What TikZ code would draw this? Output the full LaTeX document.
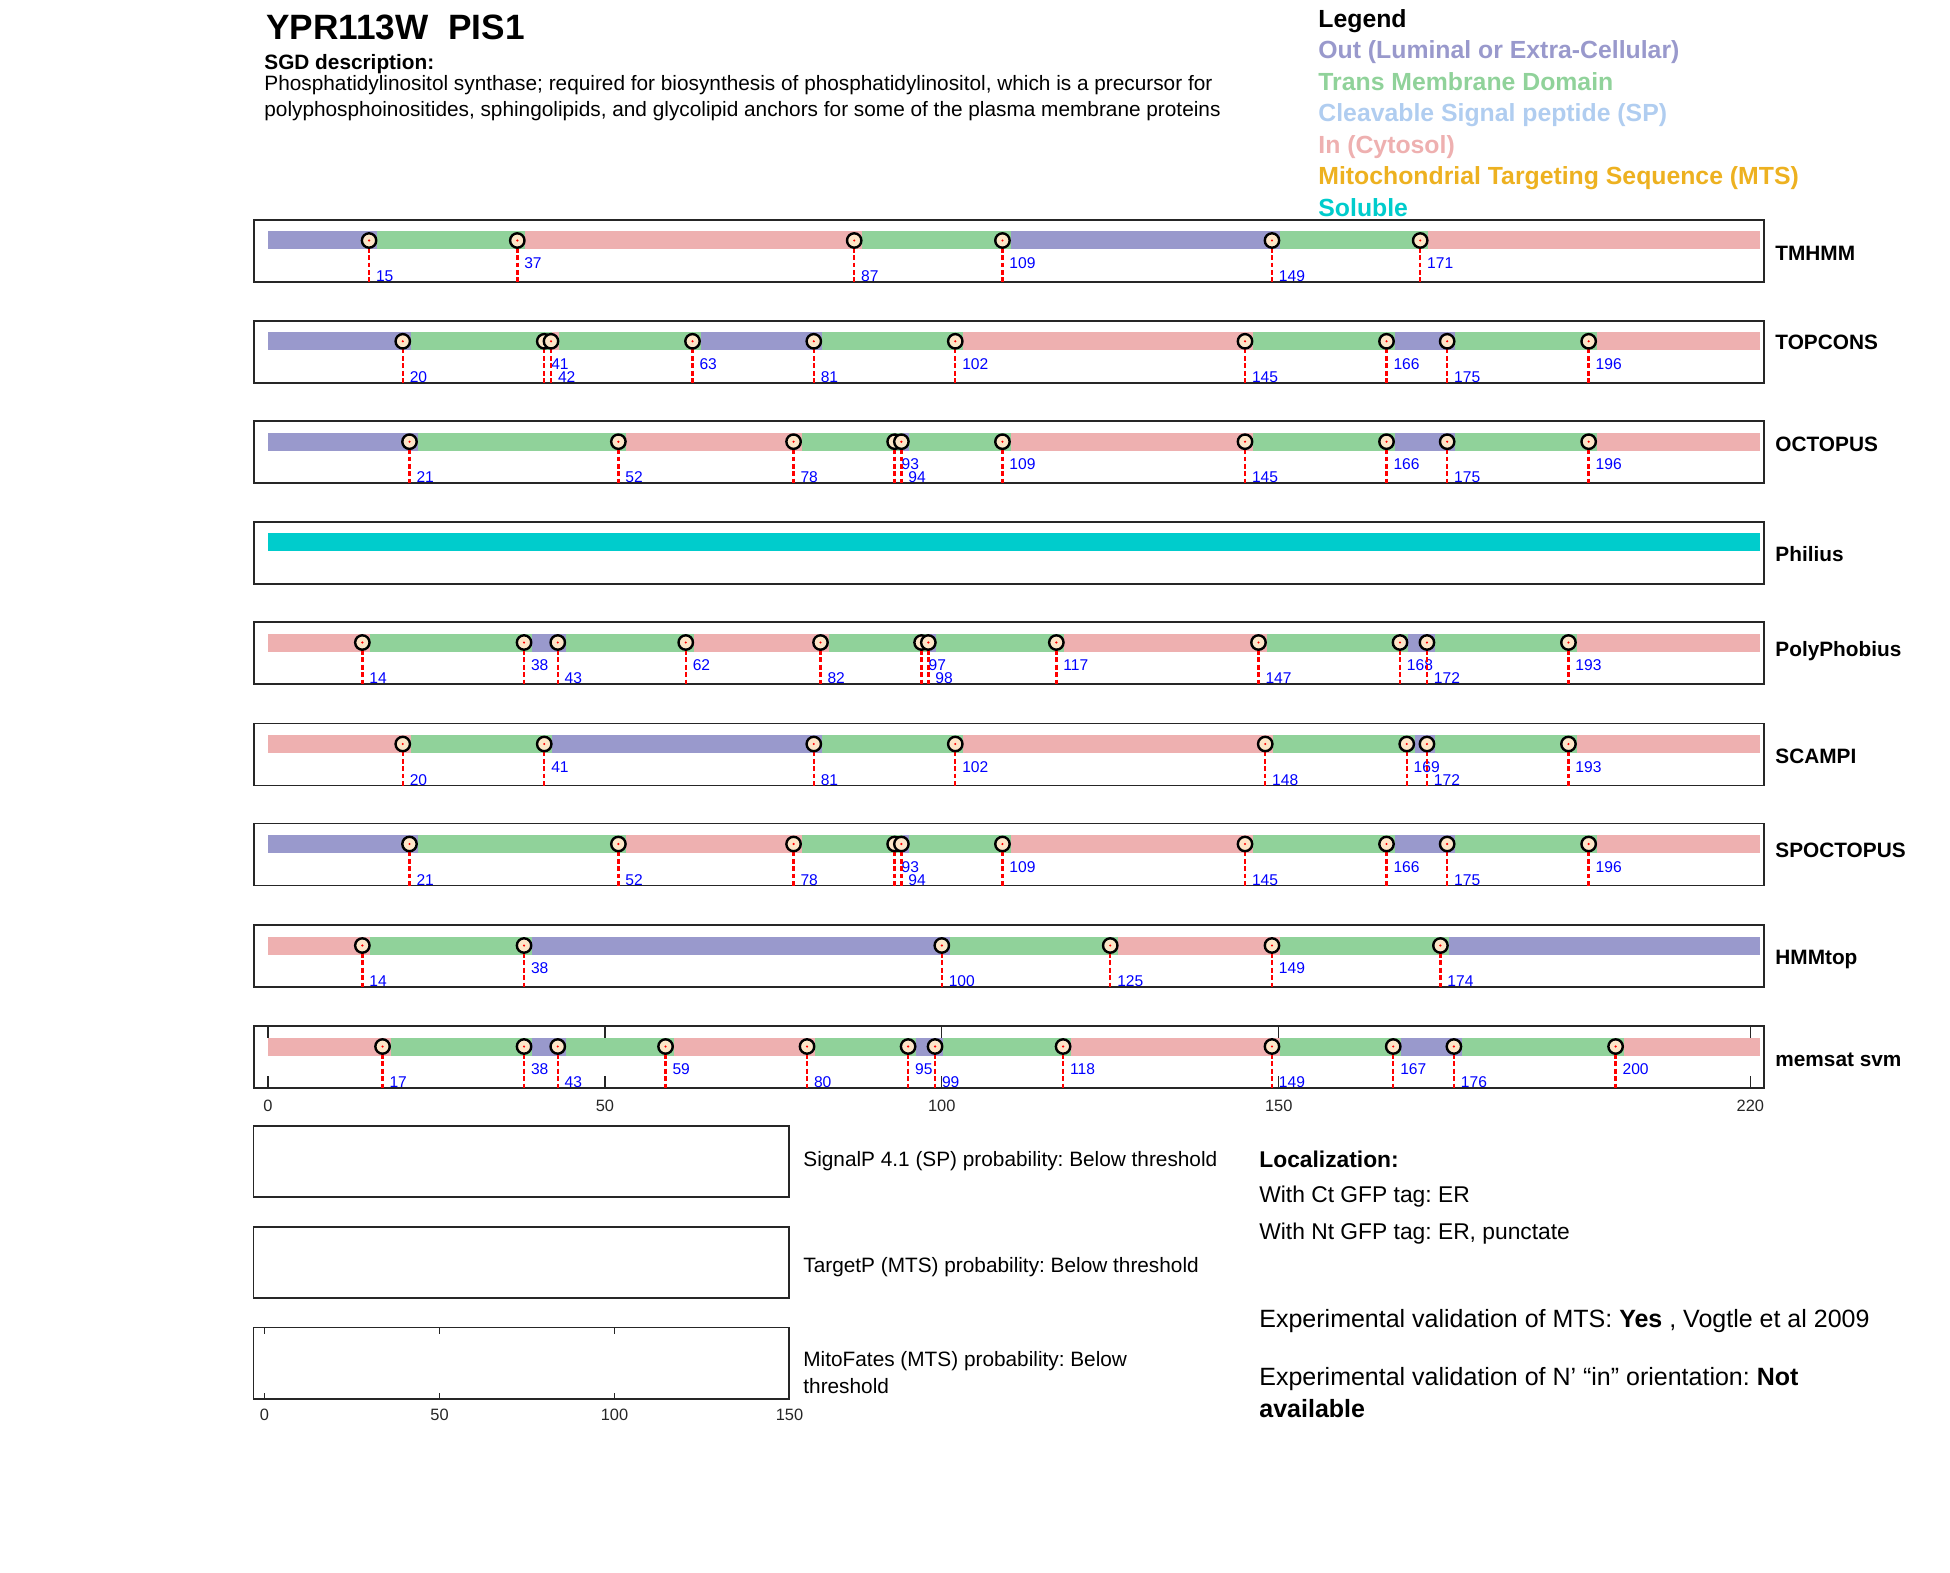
\documentclass[tikz,border=0pt]{standalone}
\usepackage{fontspec}
\setmainfont{Liberation Sans}
\usepackage{xcolor}
\usepackage{tikz}
\usetikzlibrary{positioning,calc}
\frenchspacing
\definecolor{outcol}{RGB}{153,153,204}
\definecolor{tmcol}{RGB}{144,210,154}
\definecolor{spcol}{RGB}{176,205,240}
\definecolor{incol}{RGB}{238,176,176}
\definecolor{mtscol}{RGB}{237,177,32}
\definecolor{solcol}{RGB}{0,204,204}
\definecolor{framecol}{RGB}{38,38,38}
\definecolor{knotfill}{RGB}{253,230,200}
\tikzstyle{panel}=[draw=framecol, line width=0.8pt]
\tikzstyle{tick}=[framecol, line width=0.6pt]
\tikzstyle{cut}=[red, line width=1.2pt, dash pattern=on 2.4pt off 1.3pt]
\tikzstyle{knot}=[draw=black, fill=knotfill, line width=1.2pt]
\tikzstyle{num}=[text=blue, inner sep=0pt, anchor=base west, font=\fontsize{7.8}{9}\selectfont]
\tikzstyle{axlab}=[text=framecol, inner sep=0pt, anchor=base, font=\fontsize{8.2}{9}\selectfont]
\tikzstyle{tool}=[inner sep=0pt, anchor=base west, font=\fontsize{10.4}{12}\selectfont\bfseries]
\tikzstyle{legtext}=[inner sep=0pt, anchor=base west, font=\fontsize{12.4}{14}\selectfont\bfseries]
\tikzstyle{desc}=[inner sep=0pt, anchor=base west, font=\fontsize{10.4}{12}\selectfont]
\tikzstyle{probtext}=[inner sep=0pt, anchor=base west, font=\fontsize{10.4}{12}\selectfont]
\tikzstyle{loctext}=[inner sep=0pt, anchor=base west, font=\fontsize{11.4}{13}\selectfont]
\tikzstyle{valtext}=[inner sep=0pt, anchor=base west, font=\fontsize{12.5}{14}\selectfont]
% label baselines below the panel top (upper / lower)
\def\nhi{48.6}
\def\nlo{61.6}
% #1 panel top, #2 segments a/b/colour, #3 cuts position/level, #4 row name
\newcommand{\predrow}[4]{%
	\begin{scope}[shift={(268,#1)}, x=3.369pt]
		\draw[panel] (-2.08,0) rectangle (222.03,62);
		\foreach \a/\b/\c in {#2}
			\fill[\c] ({\a+1.2},11.5) rectangle ({\b+1.2},29.5);
		\foreach \p/\h in {#3}{
			\draw[cut] (\p,20.5) -- (\p,62);
			\draw[knot] (\p,20.5) circle[radius=3.6pt];
			\fill[red] (\p,20.5) circle[radius=0.6pt];
			\node[num, xshift=3.3pt] (#4-\p) at (\p,\h) {\p};
		}
	\end{scope}}

\begin{document}
\begin{tikzpicture}[x=0.5pt, y=-0.5pt]
	\useasboundingbox (0,0) rectangle (1950,1573);

	% header
	\node[inner sep=0pt, anchor=base west, font=\fontsize{17.6}{20}\selectfont\bfseries] (gene) at (266,39.3) {YPR113W~~PIS1};
	\node[desc, font=\fontsize{10.4}{12}\selectfont\bfseries] (sgd) at (264,70) {SGD description:};
	\node[desc] (desc1) at (264,91) {Phosphatidylinositol synthase; required for biosynthesis of phosphatidylinositol, which is a precursor for};
	\node[desc] (desc2) at (264,116.7) {polyphosphoinositides, sphingolipids, and glycolipid anchors for some of the plasma membrane proteins};

	% legend
	\node[legtext] (leg) at (1318,27.3) {Legend};
	\node[legtext, text=outcol] (leg-out) at (1318,58.8) {Out (Luminal or Extra-Cellular)};
	\node[legtext, text=tmcol] (leg-tm) at (1318,90.3) {Trans Membrane Domain};
	\node[legtext, text=spcol] (leg-sp) at (1318,121.8) {Cleavable Signal peptide (SP)};
	\node[legtext, text=incol] (leg-in) at (1318,153.3) {In (Cytosol)};
	\node[legtext, text=mtscol] (leg-mts) at (1318,184.8) {Mitochondrial Targeting Sequence (MTS)};
	\node[legtext, text=solcol] (leg-sol) at (1318,216.3) {Soluble};

	% prediction rows
	\predrow{220}{-1.2/15/outcol, 15/37/tmcol, 37/87/incol, 87/109/tmcol, 109/149/outcol, 149/171/tmcol, 171/220.2/incol}
		{15/\nlo, 37/\nhi, 87/\nlo, 109/\nhi, 149/\nlo, 171/\nhi}{tmhmm}
	\predrow{320.8}{-1.2/20/outcol, 20/41/tmcol, 41/42/incol, 42/63/tmcol, 63/81/outcol, 81/102/tmcol, 102/145/incol, 145/166/tmcol, 166/175/outcol, 175/196/tmcol, 196/220.2/incol}
		{20/\nlo, 41/\nhi, 42/\nlo, 63/\nhi, 81/\nlo, 102/\nhi, 145/\nlo, 166/\nhi, 175/\nlo, 196/\nhi}{topcons}
	\predrow{421.2}{-1.2/21/outcol, 21/52/tmcol, 52/78/incol, 78/93/tmcol, 93/94/outcol, 94/109/tmcol, 109/145/incol, 145/166/tmcol, 166/175/outcol, 175/196/tmcol, 196/220.2/incol}
		{21/\nlo, 52/\nlo, 78/\nlo, 93/\nhi, 94/\nlo, 109/\nhi, 145/\nlo, 166/\nhi, 175/\nlo, 196/\nhi}{octopus}
	\begin{scope}[shift={(268,521.8)}, x=3.369pt]
		\draw[panel] (-2.08,0) rectangle (222.03,62);
		\fill[solcol] (0,11.5) rectangle (221.4,29.5);
	\end{scope}
	\predrow{622}{-1.2/14/incol, 14/38/tmcol, 38/43/outcol, 43/62/tmcol, 62/82/incol, 82/97/tmcol, 97/98/outcol, 98/117/tmcol, 117/147/incol, 147/168/tmcol, 168/172/outcol, 172/193/tmcol, 193/220.2/incol}
		{14/\nlo, 38/\nhi, 43/\nlo, 62/\nhi, 82/\nlo, 97/\nhi, 98/\nlo, 117/\nhi, 147/\nlo, 168/\nhi, 172/\nlo, 193/\nhi}{polyphobius}
	\predrow{723.5}{-1.2/20/incol, 20/41/tmcol, 41/81/outcol, 81/102/tmcol, 102/148/incol, 148/169/tmcol, 169/172/outcol, 172/193/tmcol, 193/220.2/incol}
		{20/\nlo, 41/\nhi, 81/\nlo, 102/\nhi, 148/\nlo, 169/\nhi, 172/\nlo, 193/\nhi}{scampi}
	\predrow{823.5}{-1.2/21/outcol, 21/52/tmcol, 52/78/incol, 78/93/tmcol, 93/94/outcol, 94/109/tmcol, 109/145/incol, 145/166/tmcol, 166/175/outcol, 175/196/tmcol, 196/220.2/incol}
		{21/\nlo, 52/\nlo, 78/\nlo, 93/\nhi, 94/\nlo, 109/\nhi, 145/\nlo, 166/\nhi, 175/\nlo, 196/\nhi}{spoctopus}
	\predrow{925}{-1.2/14/incol, 14/38/tmcol, 38/100/outcol, 100/125/tmcol, 125/149/incol, 149/174/tmcol, 174/220.2/outcol}
		{14/\nlo, 38/\nhi, 100/\nlo, 125/\nlo, 149/\nhi, 174/\nlo}{hmmtop}
	\predrow{1026}{-1.2/17/incol, 17/38/tmcol, 38/43/outcol, 43/59/tmcol, 59/80/incol, 80/95/tmcol, 95/99/outcol, 99/118/tmcol, 118/149/incol, 149/167/tmcol, 167/176/outcol, 176/200/tmcol, 200/220.2/incol}
		{17/\nlo, 38/\nhi, 43/\nlo, 59/\nhi, 80/\nlo, 95/\nhi, 99/\nlo, 118/\nhi, 149/\nlo, 167/\nhi, 176/\nlo, 200/\nhi}{memsat}

	% residue axis
	\begin{scope}[shift={(268,1026)}, x=3.369pt]
		\foreach \t in {0,50,100,150,220}{
			\draw[tick] (\t,0) -- (\t,12);
			\draw[tick] (\t,62) -- (\t,50);
			\node[axlab] (res-\t) at (\t,85.9) {\t};
		}
	\end{scope}

	% tool names
	\node[tool] (name-tmhmm) at (1775,260.7) {TMHMM};
	\node[tool] (name-topcons) at (1775,349.2) {TOPCONS};
	\node[tool] (name-octopus) at (1775,451.2) {OCTOPUS};
	\node[tool] (name-philius) at (1775,561.8) {Philius};
	\node[tool] (name-polyphobius) at (1775,656) {PolyPhobius};
	\node[tool] (name-scampi) at (1775,763.2) {SCAMPI};
	\node[tool] (name-spoctopus) at (1775,857.8) {SPOCTOPUS};
	\node[tool] (name-hmmtop) at (1775,964.8) {HMMtop};
	\node[tool] (name-memsat) at (1775,1066) {memsat svm};

	% probability panels
	\draw[panel] (253.5,1126) rectangle (789,1197);
	\draw[panel] (253.5,1227) rectangle (789,1298);
	\draw[panel] (253.5,1327.5) rectangle (789,1399);
	\begin{scope}[shift={(264.5,1327.5)}, x=1.75pt]
		\foreach \t in {0,50,100,150}{
			\draw[tick] (\t,0) -- (\t,6);
			\draw[tick] (\t,71.5) -- (\t,65.5);
			\node[axlab] (prob-\t) at (\t,93.3) {\t};
		}
	\end{scope}
	\node[probtext] (signalp) at (803,1166.7) {SignalP 4.1 (SP) probability: Below threshold};
	\node[probtext] (targetp) at (803,1272.4) {TargetP (MTS) probability: Below threshold};
	\node[probtext] (mitofates) at (803,1366.7) {MitoFates (MTS) probability: Below};
	\node[probtext] (mitofates2) at (803,1393.1) {threshold};

	% localization
	\node[loctext, font=\fontsize{11.4}{13}\selectfont\bfseries] (loc) at (1259,1167.5) {Localization:};
	\node[loctext] (loc-ct) at (1259,1202.2) {With Ct GFP tag: ER};
	\node[loctext] (loc-nt) at (1259,1239.2) {With Nt GFP tag: ER, punctate};
	\node[valtext] (val-mts) at (1259,1327.3) {Experimental validation of MTS: \textbf{Yes} , Vogtle et al 2009};
	\node[valtext] (val-nin) at (1259,1385.7) {Experimental validation of N’ “in” orientation: \textbf{Not}};
	\node[valtext, font=\fontsize{12.5}{14}\selectfont\bfseries] (val-nin2) at (1259,1417.3) {available};
\end{tikzpicture}
\end{document}
